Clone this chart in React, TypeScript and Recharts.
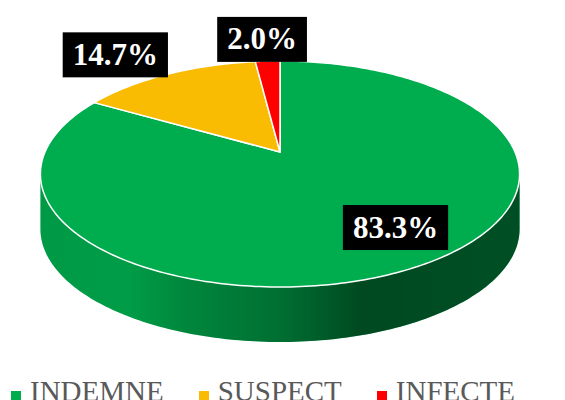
import { PieChart, Pie, Cell, Legend } from "recharts";

const categories = ["INDEMNE", "SUSPECT", "INFECTE"];
const shares = [83.3, 14.7, 2.0];
const colors = ["#00ad4e", "#f9bc02", "#ff0000"];

const data = categories.map((name, i) => ({ name, value: shares[i] }));

// fake 3d: perspective tilt, vertical squash and wall height (relative to radius)
const TILT = -0.1947;
const SQUASH = 0.4626;
const DEPTH = 0.234;
const SIL = (Math.asin(TILT) * 180) / Math.PI;

function project(cx: number, cy: number, r: number, angle: number, fx: number, fy = fx) {
  const rad = (angle * Math.PI) / 180;
  const px = (f: number) => {
    const u = Math.cos(rad) * f;
    const w = -Math.sin(rad) * f;
    return cx + (r * u) / (1 + TILT * w);
  };
  const py = (f: number) => {
    const w = -Math.sin(rad) * f;
    return cy + (r * SQUASH * w) / (1 + TILT * w);
  };
  return [px(fx), py(fy)];
}

function arc(cx: number, cy: number, r: number, a1: number, a2: number, dy = 0) {
  const n = Math.max(2, Math.ceil(Math.abs(a2 - a1)));
  const pts: number[][] = [];
  for (let i = 0; i <= n; i++) {
    const [x, y] = project(cx, cy, r, a1 + ((a2 - a1) * i) / n, 1);
    pts.push([x, y + dy]);
  }
  return pts;
}

const toPath = (pts: number[][]) =>
  pts.map((p, i) => `${i ? "L" : "M"}${p[0].toFixed(2)},${p[1].toFixed(2)}`).join("") + "Z";

function Slice3D(props: any) {
  const { cx, cy, outerRadius: r, startAngle, endAngle, fill, index } = props;
  const depth = r * DEPTH;
  const top = [[cx, cy], ...arc(cx, cy, r, startAngle, endAngle)];

  const lo = Math.min(startAngle, endAngle);
  const hi = Math.max(startAngle, endAngle);
  const walls: string[] = [];
  for (let k = -2; k <= 2; k++) {
    const a = Math.max(lo, -180 - SIL + 360 * k);
    const b = Math.min(hi, SIL + 360 * k);
    if (a < b) {
      walls.push(toPath([...arc(cx, cy, r, a, b), ...arc(cx, cy, r, b, a, depth)]));
    }
  }
  const gid = `wallShade${index}`;

  return (
    <g>
      <defs>
        <linearGradient id={gid} gradientUnits="userSpaceOnUse" x1={cx - r * 1.03} x2={cx + r * 1.03} y1={0} y2={0}>
          <stop offset="0" stopColor="#000" stopOpacity={0.11} />
          <stop offset="0.19" stopColor="#000" stopOpacity={0.1} />
          <stop offset="0.3" stopColor="#000" stopOpacity={0.22} />
          <stop offset="0.5" stopColor="#000" stopOpacity={0.36} />
          <stop offset="0.67" stopColor="#000" stopOpacity={0.58} />
          <stop offset="1" stopColor="#000" stopOpacity={0.54} />
        </linearGradient>
      </defs>
      {walls.map((d, i) => (
        <g key={i}>
          <path d={d} fill={fill} />
          <path d={d} fill={`url(#${gid})`} />
        </g>
      ))}
      <path d={toPath(top)} fill={fill} stroke="#fff" strokeWidth={1.5} strokeLinejoin="round" />
    </g>
  );
}

const charW: Record<string, number> = { ".": 0.25, "%": 1 };

function renderLabel(props: any) {
  const { cx, cy, midAngle, outerRadius, percent } = props;
  const inside = percent > 0.5;
  const [x, y] = inside
    ? project(cx, cy, outerRadius, midAngle, 0.842, 0.707)
    : project(cx, cy, outerRadius, midAngle, 1.59, 1.3);
  const text = `${(percent * 100).toFixed(1)}%`;
  const fs = 31;
  const w = text.split("").reduce((s, c) => s + (charW[c] ?? 0.5), 0) * fs + 20;
  const h = 45;
  return (
    <g>
      <rect x={x - w / 2} y={y - h / 2} width={w} height={h} fill="#000" />
      <text
        x={x}
        y={y + 10}
        textAnchor="middle"
        fill="#fff"
        fontFamily="'Liberation Serif', 'Times New Roman', serif"
        fontWeight="bold"
        fontSize={fs}
      >
        {text}
      </text>
    </g>
  );
}

function renderLegend(props: any) {
  const items = [...(props.payload || [])].sort(
    (a: any, b: any) => categories.indexOf(a.value) - categories.indexOf(b.value)
  );
  return (
    <div style={{ display: "flex", alignItems: "baseline", paddingLeft: 11, lineHeight: "29px" }}>
      {items.map((entry: any) => (
        <div key={entry.value} style={{ display: "flex", alignItems: "baseline", marginRight: 35 }}>
          <span
            style={{
              display: "inline-block",
              width: 10,
              height: 10,
              background: entry.color,
              marginRight: 9,
              marginBottom: 4,
            }}
          />
          <span
            style={{
              fontFamily: "'Liberation Serif', 'Times New Roman', serif",
              fontSize: 29,
              color: "#595959",
            }}
          >
            {entry.value}
          </span>
        </div>
      ))}
    </div>
  );
}

export default function App() {
  return (
    <div style={{ position: "absolute", left: 0, top: 0, width: 565, height: 400, overflow: "hidden", background: "#fff" }}>
      <PieChart width={565} height={400} margin={{ top: 0, right: 0, bottom: 0, left: 0 }}>
        <Pie
          data={data}
          dataKey="value"
          nameKey="name"
          cx={280}
          cy={152}
          outerRadius={235}
          startAngle={90}
          endAngle={-270}
          stroke="none"
          shape={Slice3D}
          label={renderLabel}
          labelLine={false}
          isAnimationActive={false}
        >
          {data.map((d, i) => (
            <Cell key={d.name} fill={colors[i]} />
          ))}
        </Pie>
        <Legend
          content={renderLegend}
          wrapperStyle={{ position: "absolute", top: 377, left: 0, width: 565, height: 29 }}
        />
      </PieChart>
    </div>
  );
}
